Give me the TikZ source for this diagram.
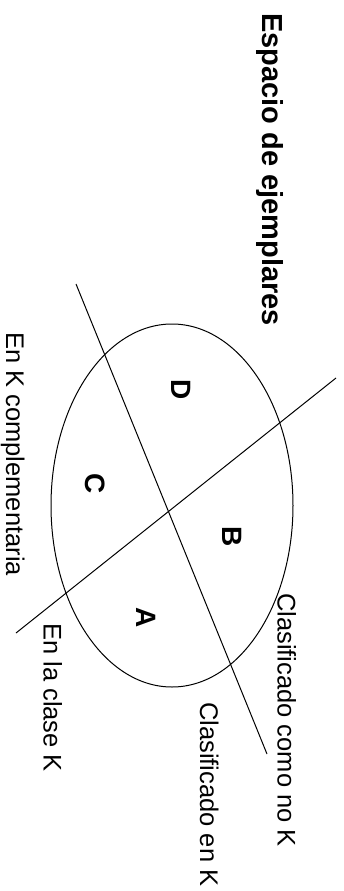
\documentclass[tikz,border=0pt]{standalone}
\usepackage{fontspec}
\setmainfont{Liberation Sans}
\usetikzlibrary{shapes.geometric}
\begin{document}
\begin{tikzpicture}[x=1pt,y=-1pt,
  lbl/.style={rotate=-90,anchor=base west,inner sep=0pt,font=\fontsize{25.5}{30}\selectfont},
  region/.style={rotate=-90,anchor=center,inner sep=0pt,font=\fontsize{28}{33}\selectfont\bfseries},
  ln/.style={line width=1pt,black}]
\useasboundingbox (0,0) rectangle (343,891);
% title
\node[rotate=-90,anchor=base west,inner sep=0pt,font=\fontsize{29}{35}\selectfont\bfseries] (title) at (262,13) {Espacio de ejemplares};
% ellipse
\node[draw,ellipse,line width=1pt,minimum width=242pt,minimum height=363pt,inner sep=0pt] (ell) at (172,505.5) {};
% lines
\coordinate (l1a) at (76,284);
\coordinate (l1b) at (267,754);
\coordinate (l2a) at (336,378);
\coordinate (l2b) at (16,633);
\draw[ln] (l1a) -- (l1b);
\draw[ln] (l2a) -- (l2b);
% region labels
\node[region] (D) at (181,390) {D};
\node[region] (C) at (95,484) {C};
\node[region] (B) at (232,537) {B};
\node[region] (A) at (146,618) {A};
% side labels
\node[lbl] (kc) at (6,332) {En K complementaria};
\node[lbl] (k) at (43.5,623) {En la clase K};
\node[lbl] (cnk) at (277.5,593) {Clasificado como no K};
\node[lbl] (ck) at (200,702) {Clasificado en K};
\end{tikzpicture}
\end{document}
